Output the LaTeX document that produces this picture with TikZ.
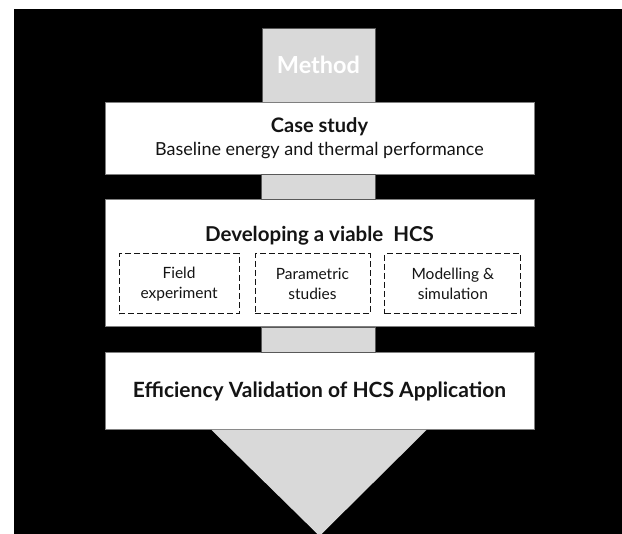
\documentclass[tikz,border=0pt]{standalone}
\usepackage{fontspec}
\setmainfont{Lato}
\usepackage{tikz}
\usetikzlibrary{calc,positioning}
\definecolor{stageFill}{HTML}{D9D9D9}
\definecolor{stageLine}{HTML}{595959}
\definecolor{boxLine}{HTML}{7F7F7F}
\definecolor{inkDark}{HTML}{141414}

\begin{document}
\begin{tikzpicture}[x=1pt,y=-1pt,
  column/.style={fill=stageFill,draw=stageLine,line width=.6pt,minimum width=113pt,minimum height=74pt,inner sep=0pt,text=white,font=\bfseries\fontsize{23.5}{26}\selectfont},
  stage/.style={fill=white,draw=boxLine,line width=.8pt,minimum width=429pt,inner sep=0pt,align=center,text=inkDark},
  sub/.style={draw=inkDark,dashed,dash pattern=on 6pt off 3pt,line width=.9pt,minimum height=60pt,inner sep=0pt,align=center,text=inkDark,font=\fontsize{15.5}{20}\selectfont},
  link/.style={fill=stageFill,draw=stageLine,line width=.6pt}
]
  % page and backdrop
  \useasboundingbox (0,0) rectangle (622,534);
  \fill[black] (14,9) rectangle (622,534);

  % method column
  \node[column] (method) at (318.5,65) {Method};

  % the three stages
  \node[stage,minimum height=72pt] (case) at (319.5,138)
    {{\bfseries\fontsize{20}{22}\selectfont Case study}\\[5pt]
     {\fontsize{18}{22}\selectfont Baseline energy and thermal performance}};
  \node[stage,minimum height=127pt,below=25pt of case] (dev) {};
  \node[inkDark,font=\bfseries\fontsize{20.5}{22}\selectfont] (devtitle) at ($(dev.north)+(0,36)$) {Developing a viable\ \ HCS};
  \node[sub,minimum width=120pt,anchor=west] (field) at ($(dev.west)+(14,20.5)$) {Field\\experiment};
  \node[sub,minimum width=115pt,right=15pt of field] (param) {Parametric\\studies};
  \node[sub,minimum width=136pt,right=14pt of param] (model) {Modelling \&\\simulation};
  \node[stage,minimum height=77pt,below=25pt of dev,font=\bfseries\fontsize{21}{24}\selectfont] (eff) {Efficiency Validation of HCS Application};

  % column pieces between the stages
  \draw[link] (case.south -| method.west) rectangle (dev.north -| method.east);
  \draw[link] (dev.south -| method.west) rectangle (eff.north -| method.east);

  % arrow head
  \fill[stageFill] ($(eff.south)+(-108,0)$) -- ($(eff.south)+(107,0)$) -- ($(eff.south)+(0,106)$) -- cycle;
\end{tikzpicture}
\end{document}
